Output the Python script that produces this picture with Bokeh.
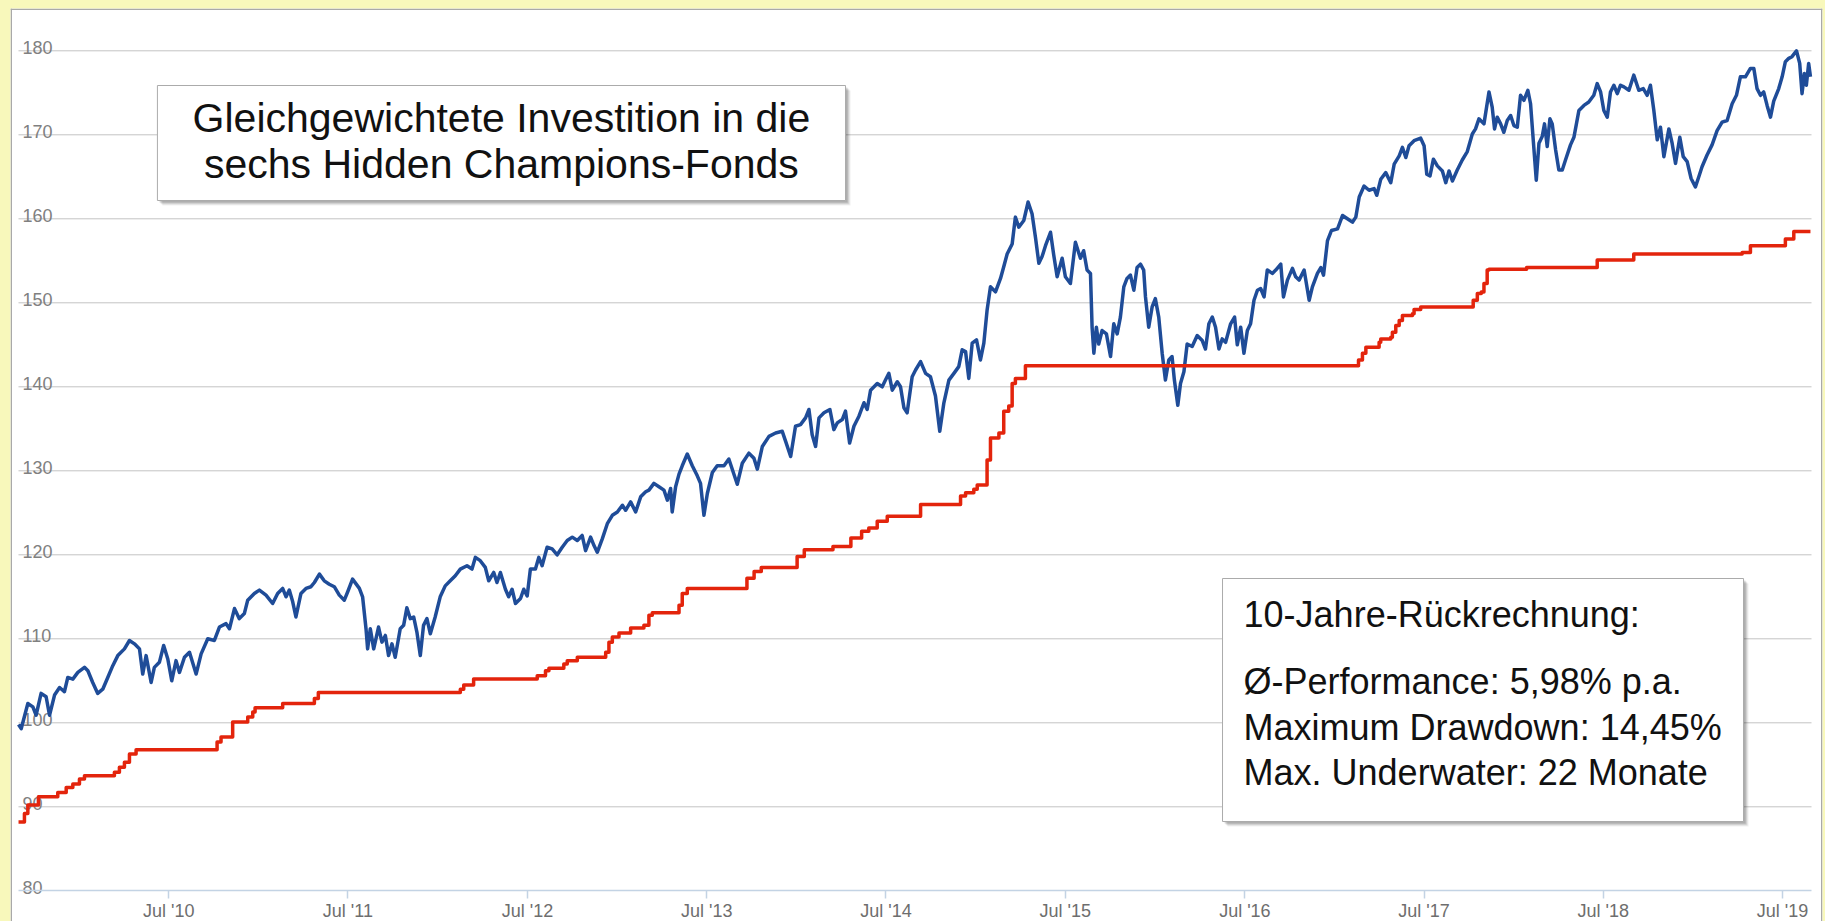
import pandas as pd
from bokeh.plotting import figure
from bokeh.models import (Range1d, DatetimeAxis, FixedTicker, DatetimeTickFormatter,
                          Span, GlobalInlineStyleSheet)
from bokeh.core.properties import value
from bokeh.embed import file_html
from bokeh.resources import INLINE

# ---------------- data (decimal years, index values) ----------------
blue_t = [2009.658, 2009.673, 2009.710, 2009.738, 2009.756, 2009.784, 2009.812, 2009.831, 2009.859, 2009.887,
          2009.914, 2009.933, 2009.961, 2009.989, 2010.026, 2010.045, 2010.072, 2010.100, 2010.128, 2010.156,
          2010.184, 2010.212, 2010.249, 2010.277, 2010.305, 2010.333, 2010.351, 2010.370, 2010.398, 2010.416,
          2010.444, 2010.468, 2010.491, 2010.513, 2010.537, 2010.556, 2010.584, 2010.612, 2010.649, 2010.677,
          2010.714, 2010.751, 2010.779, 2010.816, 2010.835, 2010.863, 2010.890, 2010.918, 2010.937, 2010.974,
          2011.002, 2011.039, 2011.076, 2011.104, 2011.132, 2011.151, 2011.169, 2011.188, 2011.206, 2011.234,
          2011.262, 2011.290, 2011.309, 2011.337, 2011.364, 2011.392, 2011.420, 2011.448, 2011.476, 2011.495,
          2011.522, 2011.560, 2011.578, 2011.597, 2011.606,
          2011.621, 2011.640, 2011.667, 2011.686, 2011.705, 2011.723, 2011.742, 2011.760, 2011.788, 2011.807,
          2011.825, 2011.844, 2011.863, 2011.881, 2011.900, 2011.918, 2011.937, 2011.956, 2011.983, 2012.011,
          2012.039, 2012.067, 2012.095, 2012.123, 2012.160, 2012.188, 2012.207, 2012.234, 2012.262, 2012.281,
          2012.309, 2012.327, 2012.346, 2012.374, 2012.392, 2012.411, 2012.430, 2012.458, 2012.476, 2012.495,
          2012.513, 2012.541, 2012.560, 2012.578, 2012.606, 2012.634, 2012.662, 2012.690, 2012.718, 2012.746,
          2012.774, 2012.801, 2012.820, 2012.848, 2012.867, 2012.885, 2012.913, 2012.941, 2012.969, 2012.997,
          2013.025, 2013.043, 2013.071, 2013.099, 2013.127, 2013.155, 2013.173, 2013.201, 2013.229, 2013.257,
          2013.276, 2013.294, 2013.303, 2013.322, 2013.341, 2013.359, 2013.387, 2013.415, 2013.443, 2013.461,
          2013.480, 2013.499, 2013.527, 2013.554, 2013.592, 2013.619,
          2013.666, 2013.694, 2013.731, 2013.759, 2013.778, 2013.806, 2013.843, 2013.880, 2013.917, 2013.936,
          2013.964, 2013.991, 2014.019, 2014.047, 2014.066, 2014.084, 2014.103, 2014.122, 2014.150, 2014.183,
          2014.205, 2014.224, 2014.252, 2014.270, 2014.293, 2014.317, 2014.345, 2014.373, 2014.391, 2014.410,
          2014.447, 2014.475, 2014.493, 2014.512, 2014.531, 2014.559, 2014.577, 2014.596, 2014.614, 2014.642,
          2014.661, 2014.689, 2014.717, 2014.744, 2014.772, 2014.796, 2014.819, 2014.847, 2014.875, 2014.902,
          2014.921, 2014.940, 2014.958, 2014.977, 2015.001, 2015.023, 2015.042, 2015.060, 2015.079, 2015.107,
          2015.135, 2015.153, 2015.172, 2015.200, 2015.218, 2015.237, 2015.265, 2015.289, 2015.311, 2015.330,
          2015.349, 2015.367, 2015.386, 2015.414, 2015.432, 2015.451, 2015.479, 2015.497, 2015.525, 2015.553,
          2015.581, 2015.599, 2015.618, 2015.637,
          2015.646, 2015.656, 2015.670, 2015.683, 2015.702, 2015.726, 2015.749, 2015.767, 2015.786, 2015.804,
          2015.823, 2015.841, 2015.860, 2015.879, 2015.897, 2015.916, 2015.934, 2015.944, 2015.962, 2015.981,
          2015.999, 2016.018, 2016.037, 2016.055, 2016.074, 2016.092, 2016.105, 2016.124, 2016.139, 2016.158,
          2016.176, 2016.204, 2016.232, 2016.260, 2016.278, 2016.297, 2016.316, 2016.334, 2016.353, 2016.371,
          2016.390, 2016.418, 2016.440, 2016.455, 2016.474, 2016.492, 2016.511, 2016.529, 2016.548, 2016.567,
          2016.585, 2016.604, 2016.622, 2016.650, 2016.669, 2016.697, 2016.712, 2016.734, 2016.762, 2016.780,
          2016.799, 2016.827, 2016.855, 2016.873, 2016.901, 2016.920, 2016.935, 2016.957, 2016.979, 2017.013,
          2017.041, 2017.068, 2017.096, 2017.115, 2017.134, 2017.161, 2017.189, 2017.217, 2017.232, 2017.254,
          2017.282, 2017.310, 2017.329, 2017.357, 2017.375, 2017.394, 2017.412, 2017.440, 2017.477, 2017.496,
          2017.511, 2017.529, 2017.548, 2017.570, 2017.598, 2017.617, 2017.635, 2017.654,
          2017.681, 2017.709, 2017.737, 2017.765, 2017.783, 2017.802, 2017.830, 2017.858, 2017.876, 2017.889,
          2017.904, 2017.923, 2017.941, 2017.960, 2017.979, 2017.997, 2018.016, 2018.034, 2018.053, 2018.075,
          2018.090, 2018.105, 2018.122, 2018.137, 2018.155, 2018.168, 2018.183, 2018.198, 2018.211, 2018.230,
          2018.248, 2018.267, 2018.285, 2018.313, 2018.332, 2018.360, 2018.388, 2018.415, 2018.443, 2018.462,
          2018.481, 2018.499, 2018.518, 2018.536, 2018.555, 2018.574, 2018.592, 2018.611, 2018.639, 2018.666,
          2018.694, 2018.719, 2018.741, 2018.759, 2018.778, 2018.797, 2018.815, 2018.834, 2018.862, 2018.880,
          2018.899, 2018.923, 2018.942, 2018.964, 2018.986, 2019.010, 2019.029, 2019.047, 2019.075, 2019.103,
          2019.131, 2019.159, 2019.187, 2019.215, 2019.239, 2019.261, 2019.289, 2019.317, 2019.336, 2019.354,
          2019.373, 2019.391, 2019.410, 2019.429, 2019.447, 2019.475, 2019.494, 2019.512, 2019.531, 2019.549,
          2019.574, 2019.592, 2019.605, 2019.618, 2019.629, 2019.642, 2019.652]
blue_v = [99.8, 99.3, 102.3, 101.9, 100.9, 103.5, 103.1, 100.9, 103.3, 104.2,
          103.7, 105.4, 105.2, 106.0, 106.6, 106.2, 104.8, 103.5, 104.0, 105.4,
          106.8, 108.0, 108.8, 109.8, 109.4, 108.8, 105.8, 108.0, 104.8, 106.6,
          107.2, 109.2, 107.6, 105.0, 107.4, 106.0, 107.8, 108.4, 105.8, 108.2,
          110.0, 109.8, 111.4, 111.8, 111.2, 113.6, 112.4, 113.0, 114.6, 115.4,
          115.8, 115.2, 114.2, 115.4, 116.0, 115.0, 115.8, 114.4, 112.6, 115.4,
          116.0, 116.2, 116.7, 117.7, 116.9, 116.5, 116.2, 115.2, 114.6, 115.6,
          117.1, 116.0, 115.0, 111.2, 108.8,
          111.2, 108.8, 111.4, 109.6, 110.4, 108.0, 109.4, 107.8, 111.2, 111.6,
          113.7, 112.4, 112.6, 110.8, 108.0, 111.6, 112.4, 110.6, 112.6, 115.0,
          116.3, 116.9, 117.5, 118.3, 118.7, 118.3, 119.7, 119.3, 118.5, 116.9,
          117.9, 116.7, 117.9, 115.9, 115.0, 115.9, 114.2, 114.8, 115.9, 115.1,
          118.3, 118.3, 119.7, 118.7, 120.9, 120.7, 120.0, 120.9, 121.7, 122.1,
          121.7, 122.3, 120.5, 122.1, 121.1, 120.3, 121.9, 123.7, 124.7, 125.1,
          125.9, 125.3, 126.3, 125.1, 126.9, 127.5, 127.7, 128.5, 128.1, 127.7,
          126.5, 127.9, 125.1, 128.1, 129.6, 130.6, 132.0, 130.6, 129.4, 128.5,
          124.7, 127.3, 129.8, 130.6, 130.6, 131.4,
          128.4, 130.9, 132.1, 131.5, 130.2, 132.9, 134.1, 134.5, 134.7, 133.5,
          131.7, 135.3, 135.5, 136.3, 137.3, 134.3, 132.9, 136.3, 136.9, 137.3,
          134.9, 135.7, 136.1, 137.1, 133.3, 135.3, 136.5, 138.1, 137.3, 139.6,
          140.4, 140.0, 140.8, 141.6, 139.6, 140.6, 140.0, 137.5, 136.9, 141.2,
          142.0, 143.0, 141.6, 141.2, 138.9, 134.7, 138.1, 140.8, 141.6, 142.4,
          144.4, 144.2, 141.0, 145.2, 145.6, 143.2, 145.2, 149.1, 151.9, 151.3,
          152.9, 154.3, 155.8, 157.0, 160.2, 159.0, 159.8, 162.0, 160.6, 157.8,
          154.7, 155.5, 156.8, 158.4, 155.7, 153.1, 155.3, 153.1, 152.3, 157.2,
          155.3, 156.2, 153.9, 153.5,
          147.1, 144.0, 147.1, 145.1, 146.7, 146.3, 143.6, 147.5, 146.3, 148.3,
          151.9, 152.9, 153.3, 151.5, 154.2, 154.6, 153.9, 150.7, 147.1, 149.5,
          150.5, 148.3, 144.0, 140.8, 143.2, 143.6, 140.8, 137.8, 140.4, 141.8,
          145.1, 144.8, 146.1, 145.5, 144.5, 147.5, 148.3, 147.1, 144.5, 145.7,
          145.3, 147.5, 148.3, 145.0, 147.1, 144.0, 146.7, 147.5, 150.3, 151.5,
          151.7, 150.7, 153.9, 153.5, 153.9, 154.6, 150.7, 152.7, 154.1, 153.1,
          152.7, 153.9, 150.3, 151.9, 153.5, 154.2, 153.3, 157.4, 158.6, 158.8,
          160.4, 160.0, 159.6, 160.2, 162.6, 163.9, 163.4, 163.6, 162.8, 164.7,
          165.5, 164.3, 166.5, 167.5, 168.5, 167.3, 168.7, 169.3, 169.6, 168.7,
          165.3, 165.1, 167.1, 166.3, 165.7, 164.3, 165.7, 164.5,
          165.8, 167.0, 168.0, 170.1, 170.7, 171.9, 171.3, 175.1, 173.3, 170.7,
          172.1, 171.3, 170.3, 171.7, 172.3, 171.1, 170.9, 174.7, 174.1, 175.3,
          173.7, 169.4, 164.6, 169.0, 169.8, 171.3, 168.6, 171.9, 171.3, 168.2,
          165.8, 165.8, 167.0, 168.8, 169.7, 172.9, 173.5, 173.9, 174.7, 176.1,
          175.1, 172.9, 172.1, 175.1, 175.9, 174.9, 175.9, 175.7, 175.3, 177.1,
          175.3, 175.5, 174.7, 175.9, 172.9, 169.4, 170.9, 167.4, 170.7, 169.0,
          166.6, 169.7, 167.4, 166.8, 164.8, 163.8, 165.0, 166.2, 167.6, 168.8,
          170.5, 171.5, 171.7, 173.7, 174.7, 176.9, 176.9, 177.9, 177.9, 175.5,
          174.7, 175.1, 173.5, 172.1, 174.0, 175.5, 176.9, 178.7, 179.1, 179.3,
          180.0, 178.5, 174.9, 177.3, 175.9, 178.5, 176.9]

red_t = [2009.658, 2009.691, 2009.710, 2009.769, 2009.877, 2009.924, 2009.961, 2009.998, 2010.026, 2010.193,
         2010.221, 2010.249, 2010.277, 2010.314, 2010.766, 2010.788, 2010.853, 2010.937, 2010.965, 2010.978,
         2011.132, 2011.309, 2011.331, 2012.123, 2012.142, 2012.197, 2012.551, 2012.597, 2012.616, 2012.699,
         2012.718, 2012.774, 2012.932, 2012.950, 2012.969, 2013.006, 2013.071, 2013.145, 2013.173, 2013.192,
         2013.341, 2013.359, 2013.387, 2013.720, 2013.760, 2013.800, 2014.000, 2014.040, 2014.200, 2014.300,
         2014.360, 2014.400, 2014.447, 2014.503, 2014.689, 2014.912, 2014.940, 2014.986, 2015.005, 2015.060,
         2015.079, 2015.126, 2015.153, 2015.181, 2015.200, 2015.218, 2015.274, 2017.130, 2017.152, 2017.171,
         2017.245, 2017.254, 2017.310, 2017.319, 2017.338, 2017.357, 2017.375, 2017.431, 2017.440, 2017.477,
         2017.770, 2017.793, 2017.815, 2017.830, 2017.848, 2017.858, 2018.068, 2018.462, 2018.666, 2019.271,
         2019.317, 2019.512, 2019.559, 2019.652]
red_v = [88.2, 89.2, 90.2, 91.2, 91.7, 92.3, 92.7, 93.3, 93.7, 94.1,
         94.7, 95.3, 96.3, 96.8, 97.7, 98.3, 100.1, 100.7, 101.3, 101.8,
         102.3, 102.9, 103.6, 104.0, 104.5, 105.2, 105.6, 106.2, 106.5, 107.0,
         107.4, 107.8, 108.4, 109.6, 110.2, 110.7, 111.3, 111.6, 112.8, 113.1,
         114.0, 115.4, 116.0, 117.2, 118.0, 118.5, 119.8, 120.6, 121.0, 122.0,
         122.8, 123.2, 124.0, 124.6, 126.0, 127.0, 127.4, 127.8, 128.3, 131.3,
         133.9, 134.5, 137.1, 137.7, 140.4, 141.0, 142.5, 143.2, 144.0, 144.7,
         145.3, 145.7, 145.9, 146.5, 147.3, 147.9, 148.5, 148.7, 149.2, 149.5,
         150.3, 151.1, 151.3, 152.3, 153.9, 154.0, 154.2, 155.1, 155.8, 156.0,
         156.8, 157.6, 158.5, 158.5]

tick_years = [2010, 2011, 2012, 2013, 2014, 2015, 2016, 2017, 2018, 2019]
y_ticks = [80, 90, 100, 110, 120, 130, 140, 150, 160, 170, 180]
title_lines = ["Gleichgewichtete Investition in die", "sechs Hidden Champions-Fonds"]
stats_lines = ["10-Jahre-R\u00fcckrechnung:", "\u00d8-Performance: 5,98% p.a.",
               "Maximum Drawdown: 14,45%", "Max. Underwater: 22 Monate"]

# ---------------- helpers ----------------
def to_dt(t):
    y = int(t)
    a = pd.Timestamp(y, 1, 1)
    b = pd.Timestamp(y + 1, 1, 1)
    return a + (b - a) * (t - y)

# canvas-pixel layout position -> data coordinate (used only for layout items)
def xd(px):
    return to_dt(2010.5 + (px - 169) / 179.3)

def yd(py):
    return 180 - (py - 50.3) / 8.4

YELLOW = "#F8F8BB"
BLUE = "#1F4C98"
RED = "#E3240C"
BORDER = "#A9A9A9"
FONT = "Liberation Sans"

W, H = 1825, 921
p = figure(width=W, height=H, output_backend="svg", toolbar_location=None,
           x_axis_location=None, y_axis_location=None,
           x_range=Range1d(xd(10), xd(1822)), y_range=Range1d(yd(921), yd(8)),
           min_border_left=10, min_border_right=3, min_border_top=8, min_border_bottom=0,
           background_fill_color="white", border_fill_color=YELLOW,
           outline_line_color=None)
p.stylesheets = [GlobalInlineStyleSheet(css="body { background-color: %s; }" % YELLOW)]
p.xgrid.visible = False
p.ygrid.visible = False

# panel border (left, top, right)
p.add_layout(Span(location=xd(10.75), dimension="height", line_color=BORDER, line_width=1.5))
p.add_layout(Span(location=yd(8.75), dimension="width", line_color=BORDER, line_width=1.5))
p.add_layout(Span(location=xd(1821.25), dimension="height", line_color=BORDER, line_width=1.5))

# grid lines (90..180)
gy = [v for v in y_ticks if v > 80]
p.segment(x0=[xd(18)] * len(gy), x1=[xd(1811)] * len(gy), y0=gy, y1=gy,
          line_color="#C3C3C3", line_width=1)

# y labels inside plot, above their grid line
p.text(x=[xd(22)] * len(y_ticks), y=y_ticks, text=[str(v) for v in y_ticks],
       text_font=value(FONT), text_font_size="18px", text_color="#808080",
       text_baseline="alphabetic", text_align="left", y_offset=-3.5)

# x axis at y=80
ticks_ms = [pd.Timestamp(y, 7, 1).value / 1e6 for y in tick_years]
fmt = "%b '%y"
xaxis = DatetimeAxis(fixed_location=80,
                     bounds=(xd(18), xd(1811)),
                     ticker=FixedTicker(ticks=ticks_ms),
                     formatter=DatetimeTickFormatter(days=fmt, months=fmt, years=fmt),
                     axis_line_color="#C3D3E4", axis_line_width=1.5,
                     major_tick_line_color="#C3D3E4", major_tick_line_width=1.5,
                     major_tick_out=8, major_tick_in=0,
                     minor_tick_out=0, minor_tick_in=0,
                     major_label_text_font=FONT, major_label_text_font_size="18px",
                     major_label_text_color="#6E6E6E", major_label_standoff=2)
p.add_layout(xaxis, "below")

# series
bx = [to_dt(t) for t in blue_t]
rx = [to_dt(t) for t in red_t]
p.line(bx, blue_v, line_color=BLUE, line_width=3.5, line_join="round")
p.step(rx, red_v, mode="after", line_color=RED, line_width=3.5, line_join="round")

# boxes with soft shadow
def box(l, t, r, b):
    for i, a in [(5, 0.06), (4, 0.08), (3, 0.10), (2, 0.12)]:
        p.quad(left=[xd(l + i)], right=[xd(r + i)], top=[yd(t + i)], bottom=[yd(b + i)],
               fill_color="#000000", fill_alpha=a, line_color=None)
    p.quad(left=[xd(l)], right=[xd(r)], top=[yd(t)], bottom=[yd(b)],
           fill_color="white", line_color="#ABABAB", line_width=1)

box(157, 85, 845, 200)
p.text(x=[xd(501), xd(501)], y=[yd(117.5), yd(163)], text=title_lines,
       text_font=value(FONT), text_font_size="41px", text_color="#111111",
       text_align="center", text_baseline="middle")

box(1222, 578, 1743, 821)
p.text(x=[xd(1243)] * 4, y=[yd(613.5), yd(681), yd(726.5), yd(772)], text=stats_lines,
       text_font=value(FONT), text_font_size="36px", text_color="#111111",
       text_align="left", text_baseline="middle")

open("out.html", "w").write(file_html(p, INLINE))
